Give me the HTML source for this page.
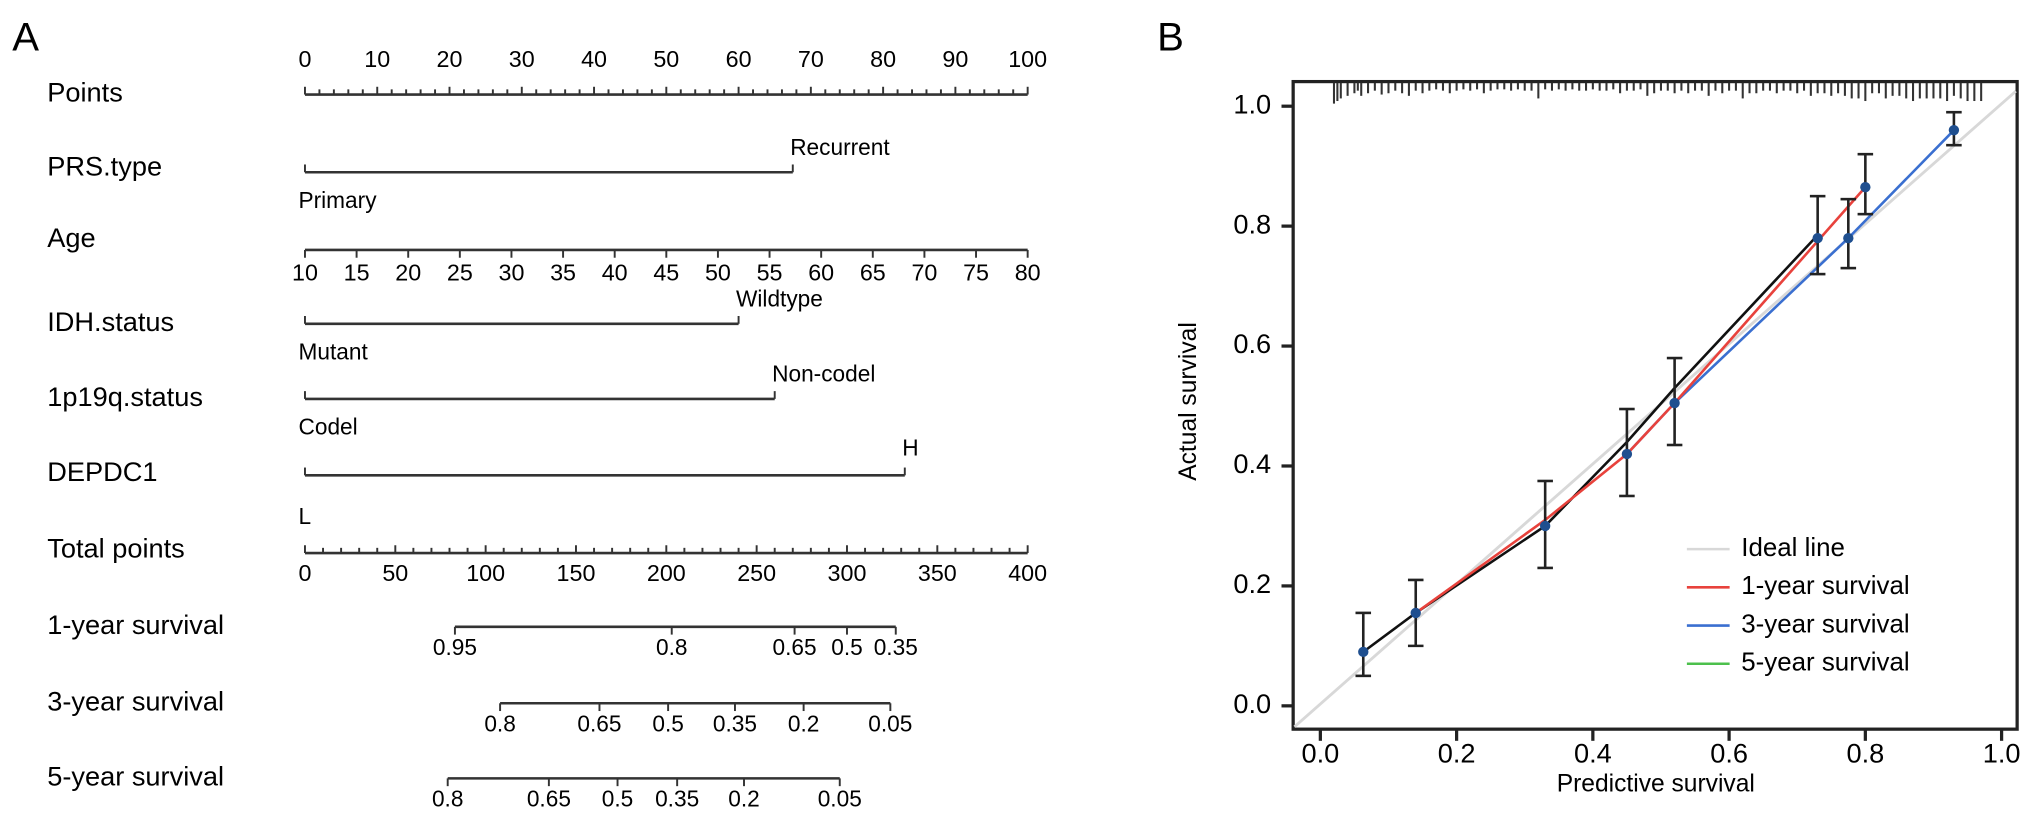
<!DOCTYPE html>
<html><head><meta charset="utf-8"><style>
html,body{margin:0;padding:0;background:#fff;}
svg{display:block;font-family:"Liberation Sans",Arial,sans-serif;}
</style></head><body>
<svg id="fig" width="2032" height="825" viewBox="0 0 1568 637" xmlns="http://www.w3.org/2000/svg">
<rect width="1568" height="637" fill="#fff"/>
<g id="nomo"></g>
<g id="calib"></g>
</svg>
<script>
// ---------- Nomogram data ----------
const pointTicks = [0,10,20,30,40,50,60,70,80,90,100];
const ageTicks = [10,15,20,25,30,35,40,45,50,55,60,65,70,75,80];
const totalTicks = [0,50,100,150,200,250,300,350,400];
const catNames = ["PRS.type","IDH.status","1p19q.status","DEPDC1"];
const catLowLabels = ["Primary","Mutant","Codel","L"];
const catHighLabels = ["Recurrent","Wildtype","Non-codel","H"];
const catHighPoints = [67.5,60,65,83];
const surv1Labels = ["0.95","0.8","0.65","0.5","0.35"];
const surv1Total = [83,203,271,300,327];
const surv3Labels = ["0.8","0.65","0.5","0.35","0.2","0.05"];
const surv3Total = [108,163,201,238,276,324];
const surv5Labels = ["0.8","0.65","0.5","0.35","0.2","0.05"];
const surv5Total = [79,135,173,206,243,296];

// ---------- Calibration data ----------
const yTicks = [0.0,0.2,0.4,0.6,0.8,1.0];
const xTicks = [0.0,0.2,0.4,0.6,0.8,1.0];
const oneYearPred = [0.14,0.33,0.45,0.52,0.73,0.80];
const oneYearAct  = [0.155,0.31,0.42,0.505,0.775,0.865];
const threeYearPred = [0.45,0.52,0.775,0.93];
const threeYearAct  = [0.42,0.505,0.78,0.96];
const fiveYearPred = [0.063,0.14,0.33,0.45,0.52,0.73];
const fiveYearAct  = [0.09,0.155,0.30,0.44,0.53,0.785];
const errPred = [0.063,0.14,0.33,0.45,0.52,0.73,0.775,0.80,0.93];
const errLow  = [0.05,0.10,0.23,0.35,0.435,0.72,0.73,0.82,0.935];
const errHigh = [0.155,0.21,0.375,0.495,0.58,0.85,0.845,0.92,0.99];
const pointPred = [0.063,0.14,0.33,0.45,0.52,0.73,0.775,0.80,0.93];
const pointAct  = [0.09,0.155,0.30,0.42,0.505,0.78,0.78,0.865,0.96];
const rugX = [0.02,0.025,0.03,0.04,0.05,0.055,0.06,0.07,0.08,0.09,0.10,0.11,0.12,0.13,0.14,0.15,0.16,0.17,0.18,0.19,0.20,0.21,0.22,0.23,0.24,0.25,0.26,0.27,0.28,0.29,0.30,0.31,0.32,0.33,0.34,0.35,0.36,0.37,0.38,0.39,0.40,0.41,0.42,0.43,0.44,0.45,0.46,0.47,0.48,0.49,0.50,0.51,0.52,0.53,0.54,0.55,0.56,0.57,0.58,0.59,0.60,0.61,0.62,0.63,0.64,0.65,0.66,0.67,0.68,0.69,0.70,0.71,0.72,0.73,0.74,0.75,0.76,0.77,0.78,0.79,0.80,0.81,0.82,0.83,0.84,0.85,0.86,0.87,0.88,0.89,0.90,0.91,0.92,0.93,0.94,0.95,0.96,0.97];
const rugLen = [16,14,12,10,8,6,10,8,6,9,8,6,8,10,6,8,6,5,6,8,6,5,6,5,8,6,5,5,6,5,6,6,12,5,6,5,6,5,6,6,5,6,6,5,8,6,6,5,10,8,6,6,8,6,8,6,6,10,6,8,6,6,12,8,8,6,6,8,6,6,8,6,10,8,8,10,8,10,12,12,14,8,8,12,10,10,12,14,12,12,12,12,14,10,12,14,14,14];

const NS = "http://www.w3.org/2000/svg";
function mk(parent, tag, attrs, text){
  const e = document.createElementNS(NS, tag);
  for (const k in attrs) e.setAttribute(k, attrs[k]);
  if (text !== undefined) e.textContent = text;
  parent.appendChild(e);
  return e;
}
const nomo = document.getElementById('nomo');
const calib = document.getElementById('calib');
const LW = 2;

const X0 = 235, X1 = 793;
const pts = v => X0 + (X1 - X0) * v / 100;
const age = v => X0 + (X1 - X0) * (v - 10) / 70;
const tot = v => X0 + (X1 - X0) * v / 400;

let t = mk(nomo,'text',{x:9,y:39,'font-size':31},'A');



function rowLabel(txt, y, name){
  const e = mk(nomo,'text',{x:36,y:y,'font-size':21,'dominant-baseline':'middle'},txt);
  
  
}
function hline(x1,x2,y,name){
  const e = mk(nomo,'line',{x1:x1,x2:x2,y1:y,y2:y,stroke:'#333','stroke-width':LW});
  
  
}
function tick(x,y,len,dir){ mk(nomo,'line',{x1:x,x2:x,y1:y,y2:y+dir*len,stroke:'#333','stroke-width':1.5}); }
function lab(x,y,txt,size,anchor){
  const e = mk(nomo,'text',{x:x,y:y,'font-size':size||17.5,'text-anchor':anchor||'middle','dominant-baseline':'middle'},txt);
  
  
}

rowLabel('Points',73,'points-row-label');
hline(X0,X1,73,'points-axis');
for (let v=0; v<=100; v+=2) tick(pts(v),73,v%10===0?6:4,-1);
pointTicks.forEach(v => lab(pts(v),47,String(v),18));

const catY = [133,250,308,367];
const catLabY = [130,250,308,366];
catNames.forEach((n,i)=>{
  rowLabel(n,catLabY[i],'row-label-'+n.toLowerCase().replace(/\./g,'-'));
  const xe = pts(catHighPoints[i]);
  hline(X0,xe,catY[i],'axis-'+n.toLowerCase().replace(/\./g,'-'));
  tick(X0,catY[i],6,-1); tick(xe,catY[i],6,-1);
  const hiOff = i===3 ? -20 : -18, loOff = i===3 ? 33 : 23;
  lab(xe-2,catY[i]+hiOff,catHighLabels[i],17.5,'start');
  lab(X0-5,catY[i]+loOff,catLowLabels[i],17.5,'start');
});

rowLabel('Age',185,'age-row-label');
hline(X0,X1,193,'age-axis');
ageTicks.forEach(v=>{ tick(age(v),193,6,1); lab(age(v),212,String(v),18); });

rowLabel('Total points',425,'total-points-row-label');
hline(X0,X1,427,'total-points-axis');
for (let v=0; v<=400; v+=10) tick(tot(v),427,v%50===0?6:4,-1);
totalTicks.forEach(v => lab(tot(v),444,String(v),18));

function survRow(name, y, labels, totals, key){
  rowLabel(name, y, key+'-row-label');
  const xs = totals.map(tot);
  hline(xs[0], xs[xs.length-1], y, key+'-axis');
  xs.forEach((x,i)=>{ tick(x,y,6,1); lab(x,y+17,labels[i],17.5); });
}
survRow('1-year survival',484,surv1Labels,surv1Total,'one-year');
survRow('3-year survival',543,surv3Labels,surv3Total,'three-year');
survRow('5-year survival',601,surv5Labels,surv5Total,'five-year');

// ---------- Calibration ----------
const BL=998, BR=1557, BT=63, BB=563;
const sx = v => 1019 + (1545-1019)*v;
const sy = v => 545 - (545-82)*v;

t = mk(calib,'text',{x:893,y:39,'font-size':31},'B');



let box = mk(calib,'rect',{x:BL,y:BT,width:BR-BL,height:BB-BT,fill:'none',stroke:'#222','stroke-width':2.5});



yTicks.forEach(v=>{
  mk(calib,'line',{x1:BL-9,x2:BL,y1:sy(v),y2:sy(v),stroke:'#222','stroke-width':2.5});
  const e = mk(calib,'text',{x:BL-17,y:sy(v),'font-size':21,'text-anchor':'end','dominant-baseline':'middle'},v.toFixed(1));
  
  
});
xTicks.forEach(v=>{
  mk(calib,'line',{x1:sx(v),x2:sx(v),y1:BB,y2:BB+9,stroke:'#222','stroke-width':2.5});
  const e = mk(calib,'text',{x:sx(v),y:BB+20,'font-size':21,'text-anchor':'middle','dominant-baseline':'middle'},v.toFixed(1));
  
  
});
t = mk(calib,'text',{x:1278,y:606,'font-size':19,'text-anchor':'middle','dominant-baseline':'middle'},'Predictive survival');


t = mk(calib,'text',{x:0,y:0,'font-size':19,'text-anchor':'middle','dominant-baseline':'middle',transform:'translate(918,310) rotate(-90)'},'Actual survival');



rugX.forEach((v,i)=>{
  const r = mk(calib,'line',{x1:sx(v),x2:sx(v),y1:BT+1,y2:BT+1+rugLen[i],stroke:'#333','stroke-width':1.6});
  
  
});

let il = mk(calib,'line',{x1:BL+1,y1:sy(-0.035),x2:BR-1,y2:sy(1.025),stroke:'#d8d8d8','stroke-width':2.2});



function series(px, py, color, name){
  const d = px.map((v,i)=>(i?'L':'M')+sx(v)+' '+sy(py[i])).join(' ');
  const p = mk(calib,'path',{d:d,fill:'none',stroke:color,'stroke-width':2});
  
  
}
series(fiveYearPred,fiveYearAct,'#111','five-year-line');
series(threeYearPred,threeYearAct,'#3a6fd0','three-year-line');
series(oneYearPred,oneYearAct,'#e8423c','one-year-line');

errPred.forEach((v,i)=>{
  const g = mk(calib,'g',{stroke:'#222','stroke-width':2});
  
  
  mk(g,'line',{x1:sx(v),x2:sx(v),y1:sy(errLow[i]),y2:sy(errHigh[i])});
  mk(g,'line',{x1:sx(v)-6,x2:sx(v)+6,y1:sy(errLow[i]),y2:sy(errLow[i])});
  mk(g,'line',{x1:sx(v)-6,x2:sx(v)+6,y1:sy(errHigh[i]),y2:sy(errHigh[i])});
});
pointPred.forEach((v,i)=>{
  const c = mk(calib,'circle',{cx:sx(v),cy:sy(pointAct[i]),r:4,fill:'#1f4f8f'});
  
  
});

const legNames = ['Ideal line','1-year survival','3-year survival','5-year survival'];
const legColors = ['#d8d8d8','#e8423c','#3a6fd0','#4cc04c'];
legNames.forEach((n,i)=>{
  const y = 424 + i*29.5;
  const g = mk(calib,'g',{});
  
  
  mk(g,'line',{x1:1302,x2:1335,y1:y,y2:y,stroke:legColors[i],'stroke-width':2});
  mk(g,'text',{x:1344,y:y,'font-size':20,'dominant-baseline':'middle'},n);
});
</script>
</body></html>
